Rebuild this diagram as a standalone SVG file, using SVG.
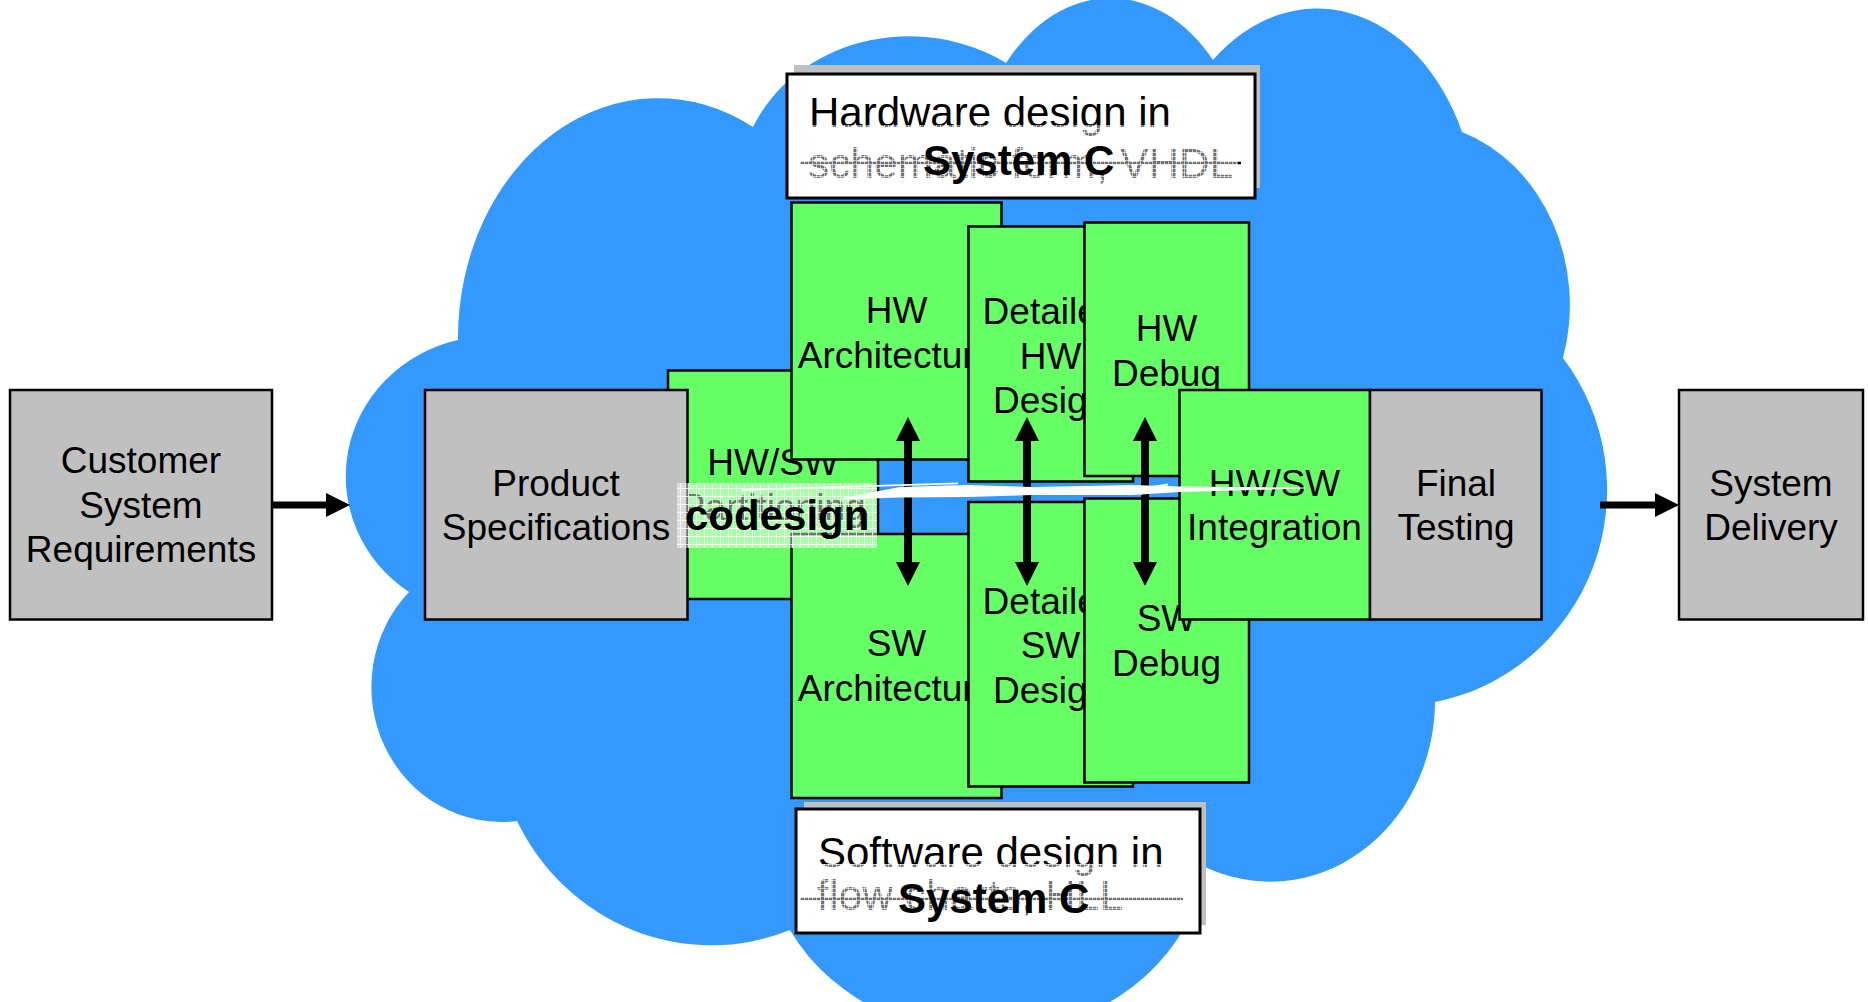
<svg xmlns="http://www.w3.org/2000/svg" width="1868" height="1002" viewBox="0 0 1868 1002">
<style>
.box{stroke:#000;stroke-width:2.5}
.gray{fill:#C0C0C0}
.green{fill:#66FF66}
.lbl{font-family:"Liberation Sans",Arial,Helvetica,sans-serif;font-size:37px;text-anchor:middle;fill:#000}
.note{font-family:"Liberation Sans",Arial,Helvetica,sans-serif;font-size:42px;fill:#000}
.bold{font-family:"Liberation Sans",Arial,Helvetica,sans-serif;font-size:42px;font-weight:bold;fill:#000}
.shadow{fill:#C0C0C0}
.notebox{fill:#fff;stroke:#000;stroke-width:3}
.strike{stroke:#000;stroke-width:2.5}
.arrow{fill:#000}
.streak{fill:#fff}
</style>
<defs>
<pattern id="grid" width="8" height="8" patternUnits="userSpaceOnUse">
<rect width="8" height="8" fill="#fff" fill-opacity="0.45"/>
<path d="M0 0.5H8M0.5 0V8" stroke="#fff" stroke-opacity="0.75" stroke-width="1"/>
</pattern>
<pattern id="fine" width="4" height="4" patternUnits="userSpaceOnUse">
<rect width="4" height="4" fill="#fff" fill-opacity="0.45"/>
<path d="M0 0.5H4M0.5 0V4" stroke="#fff" stroke-opacity="0.6" stroke-width="1"/>
</pattern>
</defs>
<rect width="1868" height="1002" fill="#fff"/>
<g id="cloud">
<path d="M458 340 A200 240 0 0 1 753 127 A170 150 0 0 1 1006 63 A140 194 0 0 1 1213 60 A160 214 0 0 1 1462 132 A160 183 0 0 1 1563 358 A212 216 0 0 1 1435 702 A165 181 0 0 1 1205 867 A220 190 0 0 1 790 930 A217 224 0 0 1 517 821 A130 135 0 0 1 409 592 A145 140 0 0 1 458 340 Z" fill="#3399FF"/>
</g>
<g id="hw-note">
<rect class="shadow" x="794" y="65" width="466" height="123"/>
<rect class="notebox" x="787" y="74" width="468" height="124"/>
<text class="note" x="809" y="127">Hardware design in</text>
<text class="note" x="808" y="178" font-size="40" textLength="425" lengthAdjust="spacing">schematic form, VHDL</text>
<line class="strike" x1="800" y1="163" x2="1241" y2="163"/>
<rect x="798" y="125" width="440" height="66" fill="url(#fine)"/>
<text class="bold" x="923" y="175">System C</text>
</g>
<g id="sw-note">
<rect class="shadow" x="804" y="802" width="402" height="123"/>
<rect class="notebox" x="796" y="809" width="404" height="124"/>
<text class="note" x="818" y="867">Software design in</text>
<text class="note" x="817" y="910" font-size="40" textLength="306" lengthAdjust="spacing">flow charts, HLL</text>
<line class="strike" x1="800" y1="899" x2="1183" y2="899"/>
<rect x="798" y="864" width="386" height="64" fill="url(#fine)"/>
<text class="bold" x="898" y="913">System C</text>
</g>
<g id="customer">
<rect class="box gray" x="10" y="390" width="262" height="229.5"/>
<text class="lbl" x="141" y="473">Customer</text>
<text class="lbl" x="141" y="517.5">System</text>
<text class="lbl" x="141" y="562">Requirements</text>
</g>
<g id="partition">
<rect class="box green" x="668" y="370.5" width="210" height="228.5"/>
<text class="lbl" x="773" y="475">HW/SW</text>
<text class="lbl" x="773" y="520">Partitioning</text>
</g>
<g id="product-spec">
<rect class="box gray" x="425" y="390" width="262.5" height="229.5"/>
<text class="lbl" x="556" y="495.5">Product</text>
<text class="lbl" x="556" y="540">Specifications</text>
</g>
<g id="hw-arch">
<rect class="box green" x="791.5" y="202.5" width="210" height="257"/>
<text class="lbl" x="896.5" y="323">HW</text>
<text class="lbl" x="896.5" y="368">Architecture</text>
</g>
<g id="sw-arch">
<rect class="box green" x="791.5" y="534" width="210" height="264"/>
<text class="lbl" x="896.5" y="656">SW</text>
<text class="lbl" x="896.5" y="701">Architecture</text>
</g>
<g id="det-hw">
<rect class="box green" x="968.5" y="226.5" width="164.5" height="255"/>
<text class="lbl" x="1050.5" y="324">Detailed</text>
<text class="lbl" x="1050.5" y="368.5">HW</text>
<text class="lbl" x="1050.5" y="413">Design</text>
</g>
<g id="det-sw">
<rect class="box green" x="968.5" y="502" width="164.5" height="284.5"/>
<text class="lbl" x="1050.5" y="613.5">Detailed</text>
<text class="lbl" x="1050.5" y="658">SW</text>
<text class="lbl" x="1050.5" y="702.5">Design</text>
</g>
<g id="hw-debug">
<rect class="box green" x="1084.5" y="222.5" width="164.5" height="253.5"/>
<text class="lbl" x="1166.5" y="341">HW</text>
<text class="lbl" x="1166.5" y="385.5">Debug</text>
</g>
<g id="sw-debug">
<rect class="box green" x="1084.5" y="498.5" width="164.5" height="284"/>
<text class="lbl" x="1166.5" y="631">SW</text>
<text class="lbl" x="1166.5" y="676">Debug</text>
</g>
<g id="integration">
<rect class="box green" x="1179.5" y="390" width="190.5" height="229.5"/>
<text class="lbl" x="1274.5" y="495.5">HW/SW</text>
<text class="lbl" x="1274.5" y="540">Integration</text>
</g>
<g id="final-testing">
<rect class="box gray" x="1370" y="390" width="171.5" height="229.5"/>
<text class="lbl" x="1456" y="495.5">Final</text>
<text class="lbl" x="1456" y="540">Testing</text>
</g>
<g id="system-delivery">
<rect class="box gray" x="1679" y="390" width="184" height="229.5"/>
<text class="lbl" x="1771" y="495.5">System</text>
<text class="lbl" x="1771" y="540">Delivery</text>
</g>
<g id="codesign">
<rect x="677" y="483" width="200" height="65" fill="url(#grid)"/>
<text class="bold" x="685" y="530">codesign</text>
</g>
<g id="connectors">
<rect class="arrow" x="272" y="501.5" width="56" height="7"/>
<polygon class="arrow" points="326,493 350,505 326,517"/>
<rect class="arrow" x="1600" y="501.5" width="57" height="7"/>
<polygon class="arrow" points="1655,493 1679,505 1655,517"/>
<rect class="arrow" x="904" y="438" width="8" height="127"/>
<polygon class="arrow" points="896,441 908,417 920,441"/>
<polygon class="arrow" points="896,562 908,586 920,562"/>
<rect class="arrow" x="1023" y="438" width="8" height="127"/>
<polygon class="arrow" points="1015,441 1027,417 1039,441"/>
<polygon class="arrow" points="1015,562 1027,586 1039,562"/>
<rect class="arrow" x="1141" y="438" width="8" height="127"/>
<polygon class="arrow" points="1133,441 1145,417 1157,441"/>
<polygon class="arrow" points="1133,562 1145,586 1157,562"/>
</g>
<g id="streaks">
<polygon class="streak" points="742,489 958,482.5 958,484.2 742,491"/>
<polygon class="streak" points="843,498 900,487 967,485 1033,487 1133,485 1180,486.5 1305,487.5 1305,488.6 1180,492 1133,495 1033,495 967,497 900,497.5 843,499.6"/>
<polyline points="1140,494.5 1150,487.5 1168,484.5" fill="none" stroke="#fff" stroke-width="2"/>
</g>
</svg>
